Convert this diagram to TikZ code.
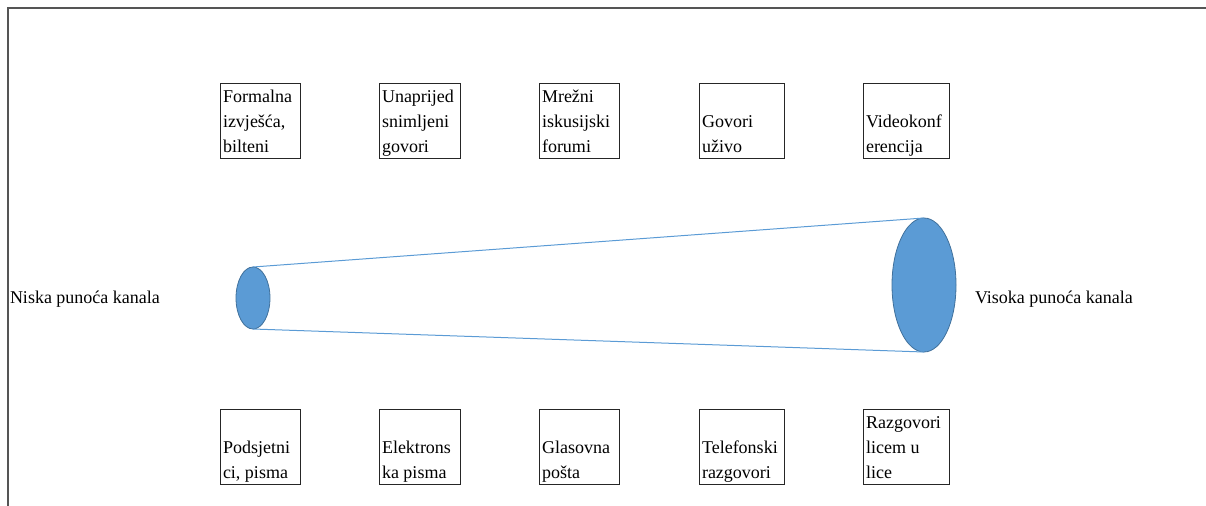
\documentclass[tikz,border=0pt]{standalone}
\usepackage{fontspec}
\setmainfont{Liberation Serif}
\usetikzlibrary{shapes.geometric}
\definecolor{plava}{RGB}{91,155,213}
\definecolor{plavarub}{RGB}{65,113,156}
\definecolor{okvir}{RGB}{85,85,85}
\tikzset{
  kutija/.style={draw=black!85, line width=0.75pt, inner sep=0pt, outer sep=0pt},
  opis/.style={anchor=base west, inner sep=0pt, outer sep=0pt},
  kanal/.style={ellipse, fill=plava, draw=plavarub, line width=0.6pt, inner sep=0pt, outer sep=0pt}
}
\begin{document}
\begin{tikzpicture}[x=0.75pt, y=-0.75pt, font=\fontsize{13.5pt}{18.75pt}\selectfont]
\useasboundingbox (0,0) rectangle (1206,506);
\draw[okvir, line width=1.1pt] (8,506)--(8,8)--(1206,8);

% gornji red
\foreach \n/\xa/\xb/\txt in {1/220/300/{Formalna\\izvješća,\\bilteni},
  2/379/460/{Unaprijed\\snimljeni\\govori}, 3/539/619/{Mrežni\\iskusijski\\forumi},
  4/699/784/{Govori\\uživo}, 5/863/949/{Videokonf\\erencija}}
{
    \node[kutija, minimum width={(\xb-\xa)*0.75pt}, minimum height=56.25pt] (g\n) at ({(\xa+\xb)/2},121.5) {};
    \node[opis] (gt\n) at ([shift={(3,-6)}]g\n.south west) {\parbox[b]{80pt}{\raggedright\txt}};
}

% donji red
\foreach \n/\xa/\xb/\txt in {1/220/300/{Podsjetni\\ci, pisma},
  2/379/460/{Elektrons\\ka pisma}, 3/539/619/{Glasovna\\pošta},
  4/699/784/{Telefonski\\razgovori}, 5/863/949/{Razgovori\\licem u\\lice}}
{
    \node[kutija, minimum width={(\xb-\xa)*0.75pt}, minimum height=56.25pt] (d\n) at ({(\xa+\xb)/2},446.5) {};
    \node[opis] (dt\n) at ([shift={(3,-6)}]d\n.south west) {\parbox[b]{80pt}{\raggedright\txt}};
}

\node[kanal, minimum width=25.5pt, minimum height=46.5pt] (mali) at (253,298) {};
\node[kanal, minimum width=48pt, minimum height=100.5pt] (veliki) at (924,285) {};
\draw[plava, line width=0.75pt] (mali.north)--(veliki.north);
\draw[plava, line width=0.75pt] (mali.south)--(veliki.south);

\node[opis] (niska) at (10,303) {Niska punoća kanala};
\node[opis] (visoka) at (975,303) {Visoka punoća kanala};
\end{tikzpicture}
\end{document}
